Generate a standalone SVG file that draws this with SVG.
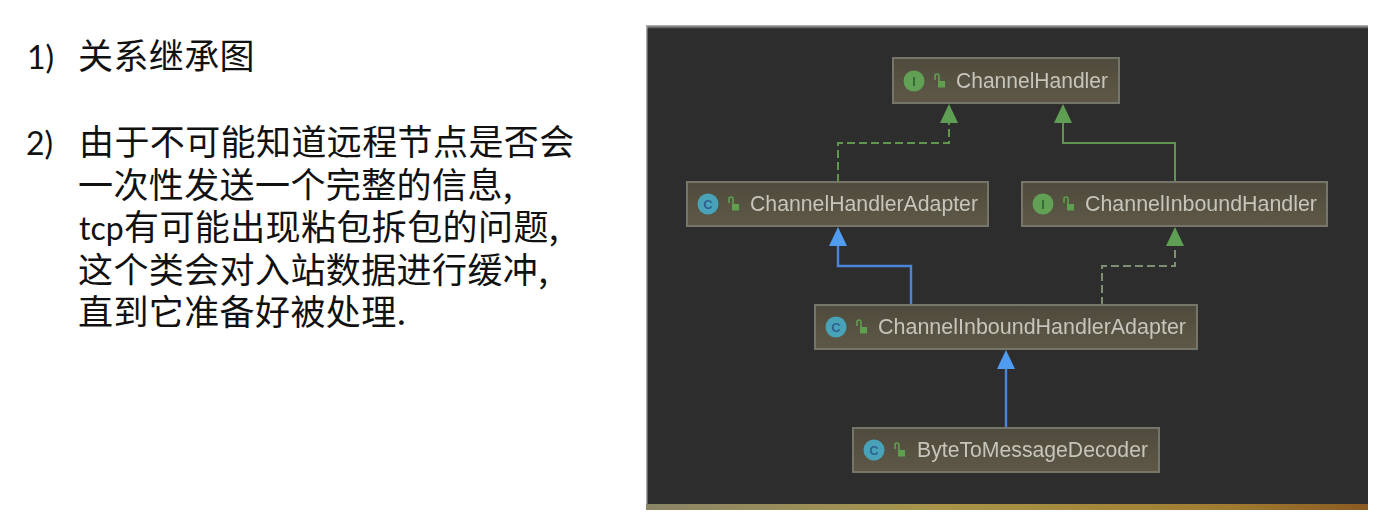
<svg xmlns="http://www.w3.org/2000/svg" width="1379" height="517" viewBox="0 0 1379 517">
<style>
.cjk{font-family:"Noto Sans CJK SC","Noto Sans",sans-serif;font-size:35px;letter-spacing:.4px;fill:#111}
.lat{font-family:"Lato","Noto Sans CJK SC",sans-serif;font-size:32px;fill:#111}
.box{fill:url(#boxFill);stroke:#75746a;stroke-width:2}
.lbl{font-family:"Liberation Sans",sans-serif;font-size:21.5px;fill:#c6c5ba}
.ico{font-family:"Liberation Sans",sans-serif;font-size:13px;font-weight:bold;text-anchor:middle}
.gi{fill:#62a055}.bi{fill:#4aa3b8}
.git{fill:#2f6a30}.bit{fill:#2f5f90}
.lock{fill:none;stroke:#5fa04f;stroke-width:1.6}.lockb{fill:#5fa04f}
.green{fill:none;stroke:#5f9550;stroke-width:2}
.blue{fill:none;stroke:#4a86d8;stroke-width:2.4}
.dash{stroke-dasharray:8 4}
.grey{stroke:#7f8f72}
</style>
<defs>
<linearGradient id="boxFill" x1="0" y1="0" x2="0" y2="1"><stop offset="0" stop-color="#4f4b3d"/><stop offset="1" stop-color="#5e5847"/></linearGradient>
<linearGradient id="strip" x1="0" y1="0" x2="1" y2="0"><stop offset="0" stop-color="#8a8568"/><stop offset="0.4" stop-color="#a8954a"/><stop offset="0.8" stop-color="#a07c30"/><stop offset="1" stop-color="#8a5a22"/></linearGradient>
<linearGradient id="top" x1="0" y1="0" x2="0" y2="1"><stop offset="0" stop-color="#bdbdbd"/><stop offset="1" stop-color="#2d2d2d"/></linearGradient>
<filter id="soft" x="-5%" y="-20%" width="110%" height="140%"><feGaussianBlur stdDeviation="0.7"/></filter>
<g id="lk"><rect x="-1" y="0" width="7" height="6.5" class="lockb"/><path d="M-4 -1V-5Q-4 -7 -2 -7Q0 -7 0 -5V0" class="lock"/></g>
</defs>
<g id="text">
<text class="lat" x="27" y="69">1)</text>
<text class="cjk" x="78" y="69">关系继承图</text>
<text class="lat" x="26" y="155">2)</text>
<text class="cjk" x="79" y="155">由于不可能知道远程节点是否会</text>
<text class="cjk" x="78" y="198">一次性发送一个完整的信息,</text>
<text class="lat" x="79" y="240">tcp</text>
<text class="cjk" x="124" y="240">有可能出现粘包拆包的问题,</text>
<text class="cjk" x="78" y="283">这个类会对入站数据进行缓冲,</text>
<text class="cjk" x="78" y="325">直到它准备好被处理.</text>
</g>
<g id="panel">
<rect x="646" y="25" width="722" height="480" fill="#2d2d2d"/>
<rect x="646" y="25" width="722" height="4" fill="url(#top)"/>
<rect x="646" y="25" width="1.5" height="480" fill="#aaa"/>
<rect x="646" y="504" width="722" height="6" fill="url(#strip)"/>
</g>
<g id="connectors" filter="url(#soft)">
<path class="green dash" d="M838 182V143H949V122"/>
<path d="M949 104L958 123H940Z" fill="#5f9f52"/>
<path class="green" d="M1175 182V143H1063V122"/>
<path d="M1063 104L1072 123H1054Z" fill="#5f9f52"/>
<path class="blue" d="M911 305V266H838V245"/>
<path d="M838 227L847 246H829Z" fill="#4f9cf0"/>
<path class="green dash grey" d="M1102 305V266H1175V245"/>
<path d="M1175 227L1184 246H1166Z" fill="#5f9f52"/>
<path class="blue" d="M1006 428V367"/>
<path d="M1006 350L1015 369H997Z" fill="#4f9cf0"/>
</g>
<g id="node-channelhandler" filter="url(#soft)">
<rect class="box" x="893" y="58" width="226" height="45"/>
<circle class="gi" cx="914" cy="81" r="10.5"/><text class="ico git" x="914" y="86">I</text>
<use href="#lk" x="939" y="81"/>
<text class="lbl" x="956" y="88" textLength="152" lengthAdjust="spacingAndGlyphs">ChannelHandler</text>
</g>
<g id="node-channelhandleradapter" filter="url(#soft)">
<rect class="box" x="687" y="182" width="301" height="44"/>
<circle class="bi" cx="708" cy="204" r="10.5"/><text class="ico bit" x="708" y="209">C</text>
<use href="#lk" x="733" y="204"/>
<text class="lbl" x="750" y="211" textLength="228" lengthAdjust="spacingAndGlyphs">ChannelHandlerAdapter</text>
</g>
<g id="node-channelinboundhandler" filter="url(#soft)">
<rect class="box" x="1022" y="182" width="305" height="44"/>
<circle class="gi" cx="1043" cy="204" r="10.5"/><text class="ico git" x="1043" y="209">I</text>
<use href="#lk" x="1068" y="204"/>
<text class="lbl" x="1085" y="211" textLength="232" lengthAdjust="spacingAndGlyphs">ChannelInboundHandler</text>
</g>
<g id="node-channelinboundhandleradapter" filter="url(#soft)">
<rect class="box" x="815" y="305" width="382" height="44"/>
<circle class="bi" cx="836" cy="327" r="10.5"/><text class="ico bit" x="836" y="332">C</text>
<use href="#lk" x="861" y="327"/>
<text class="lbl" x="878" y="334" textLength="308" lengthAdjust="spacingAndGlyphs">ChannelInboundHandlerAdapter</text>
</g>
<g id="node-bytetomessagedecoder" filter="url(#soft)">
<rect class="box" x="853" y="428" width="306" height="44"/>
<circle class="bi" cx="874" cy="450" r="10.5"/><text class="ico bit" x="874" y="455">C</text>
<use href="#lk" x="899" y="450"/>
<text class="lbl" x="917" y="457" textLength="231" lengthAdjust="spacingAndGlyphs">ByteToMessageDecoder</text>
</g>
</svg>
